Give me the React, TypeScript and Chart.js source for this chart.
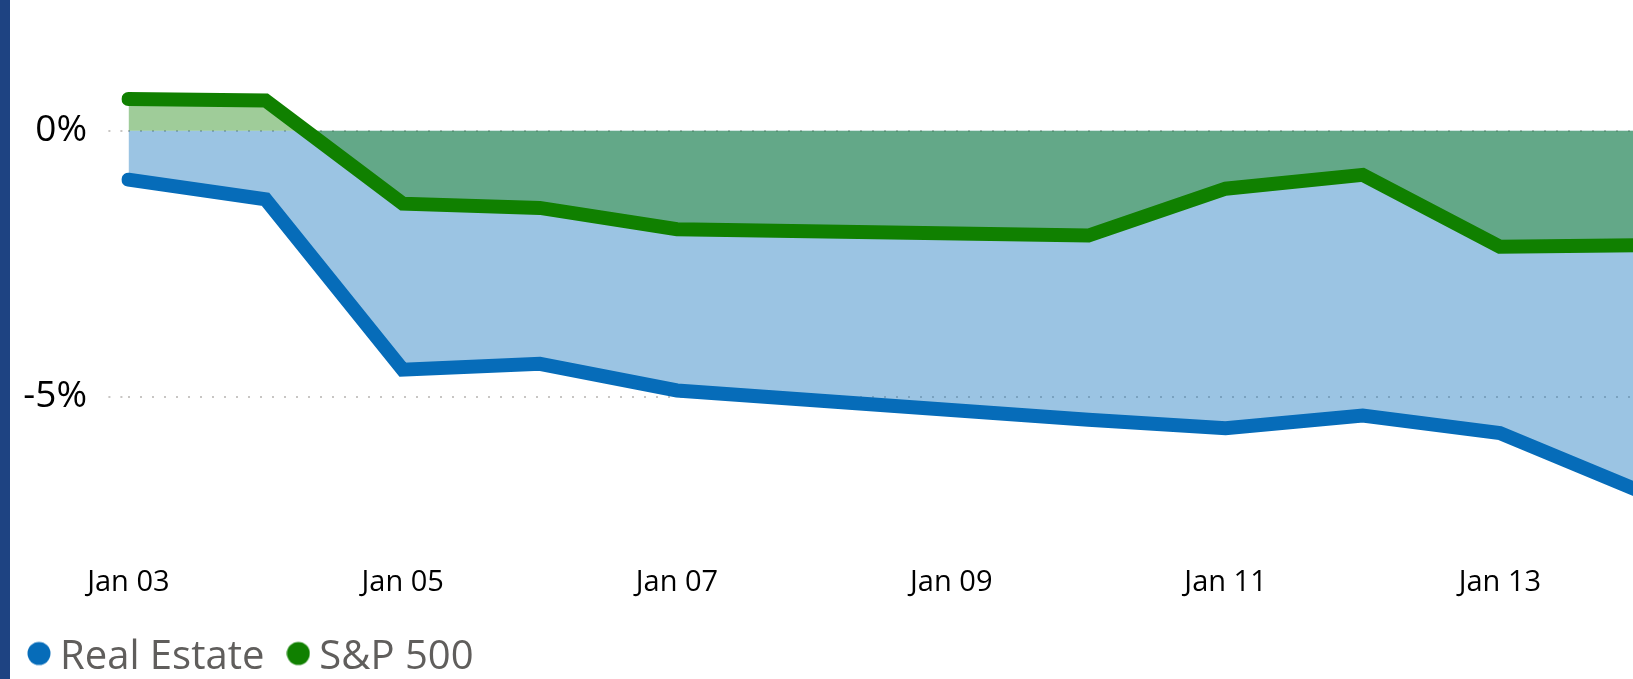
import React, { useEffect, useRef } from "react";
import { Chart, registerables } from "chart.js";

Chart.register(...registerables);

// Trading days shown on a daily axis (weekend slots left empty)
const dayLabels = [
  "Jan 03", "Jan 04", "Jan 05", "Jan 06", "Jan 07", "Jan 08",
  "Jan 09", "Jan 10", "Jan 11", "Jan 12", "Jan 13", "Jan 14",
];

// Cumulative return, percent
const realEstate = [-0.92, -1.29, -4.49, -4.38, -4.88, null, null, -5.43, -5.59, -5.35, -5.68, -6.75];
const sp500 = [0.595, 0.57, -1.37, -1.45, -1.85, null, null, -1.97, -1.09, -0.83, -2.18, -2.15];

// Only these gridlines / labels appear on the value axis
const yTickValues = [-5, 0];

const seriesNames = ["Real Estate", "S&P 500"];
const seriesColors = ["#066cb9", "#108000"];
const seriesFills = ["rgba(6,108,185,0.4)", "rgba(16,128,0,0.4)"];
const FONT = "'Segoe UI', 'Open Sans', sans-serif";

// Legend marker: a filled dot, drawn a little above the image centre
function makeDot(color: string): HTMLCanvasElement {
  const c = document.createElement("canvas");
  c.width = 24;
  c.height = 34;
  const ctx = c.getContext("2d")!;
  ctx.fillStyle = color;
  ctx.beginPath();
  ctx.arc(12, 13, 11.5, 0, Math.PI * 2);
  ctx.fill();
  return c;
}

export default function App() {
  const canvasRef = useRef<HTMLCanvasElement | null>(null);

  useEffect(() => {
    const canvas = canvasRef.current;
    if (!canvas) return;

    const dots = seriesColors.map(makeDot);

    const chart = new Chart(canvas, {
      type: "line",
      data: {
        labels: dayLabels,
        datasets: [
          {
            label: seriesNames[0],
            data: realEstate,
            borderColor: seriesColors[0],
            backgroundColor: seriesFills[0],
            borderWidth: 14,
            borderCapStyle: "round",
            borderJoinStyle: "miter",
            fill: "origin",
            pointRadius: 0,
            pointHoverRadius: 0,
            spanGaps: true,
            tension: 0,
            order: 1,
          },
          {
            label: seriesNames[1],
            data: sp500,
            borderColor: seriesColors[1],
            backgroundColor: seriesFills[1],
            borderWidth: 14,
            borderCapStyle: "round",
            borderJoinStyle: "miter",
            fill: "origin",
            pointRadius: 0,
            pointHoverRadius: 0,
            spanGaps: true,
            tension: 0,
            order: 0,
          },
        ],
      },
      options: {
        responsive: false,
        animation: false,
        devicePixelRatio: 1,
        layout: { padding: { left: 5, right: 63, top: 3, bottom: 0.5 } },
        events: [],
        scales: {
          x: {
            type: "category",
            offset: false,
            grid: { display: false, drawTicks: false },
            border: { display: false },
            ticks: {
              autoSkip: false,
              maxRotation: 0,
              minRotation: 0,
              padding: 9,
              color: "#000000",
              font: { family: FONT, size: 29 },
              callback: (_v: any, i: number) => (i % 2 === 0 ? dayLabels[i] : ""),
            },
            afterFit: (scale: any) => {
              scale.height = 48;
              scale.paddingLeft = 0;
              scale.paddingRight = 0;
            },
          },
          y: {
            min: -8,
            max: 2.4,
            border: { display: false, dash: [2, 10] },
            grid: {
              color: "#c8c6c4",
              lineWidth: 2,
              tickLength: 20,
              drawTicks: true,
              tickColor: "#c8c6c4",
              tickWidth: 2,
              tickBorderDash: [2, 10],
            } as any,
            ticks: {
              padding: 21.4,
              color: "#000000",
              font: { family: FONT, size: 37 },
              callback: (v: any) => `${v}%`,
            },
            afterBuildTicks: (scale: any) => {
              scale.ticks = yTickValues.map((value) => ({ value }));
            },
            afterFit: (scale: any) => {
              scale.width = 123.4;
              scale.paddingTop = 0;
              scale.paddingBottom = 0;
            },
          },
        },
        plugins: {
          filler: { drawTime: "beforeDatasetsDraw" } as any,
          tooltip: { enabled: false },
          legend: {
            display: true,
            position: "bottom",
            align: "start",
            labels: {
              usePointStyle: true,
              boxWidth: 2,
              boxHeight: 16.26,
              padding: 33,
              color: "#605e5c",
              font: { family: FONT, size: 40 },
              sort: (a: any, b: any) => a.datasetIndex - b.datasetIndex,
              generateLabels: (c: any) => {
                const base = Chart.defaults.plugins.legend.labels.generateLabels(c);
                return base.map((item: any) => {
                  const idx = item.datasetIndex;
                  return {
                    ...item,
                    fillStyle: seriesColors[idx],
                    strokeStyle: seriesColors[idx],
                    lineWidth: 0,
                    pointStyle: dots[idx],
                  };
                });
              },
            },
          },
        },
      },
    });

    return () => chart.destroy();
  }, []);

  return (
    <div
      style={{
        position: "fixed",
        left: 0,
        top: 0,
        width: 1633,
        height: 679,
        overflow: "hidden",
        background: "#ffffff",
      }}
    >
      <canvas
        ref={canvasRef}
        width={1700}
        height={688}
        style={{ position: "absolute", left: 0, top: 0, width: 1700, height: 688 }}
      />
      <div
        style={{
          position: "absolute",
          left: 0,
          top: 0,
          width: 10,
          height: 679,
          background: "#1e4382",
        }}
      />
    </div>
  );
}
